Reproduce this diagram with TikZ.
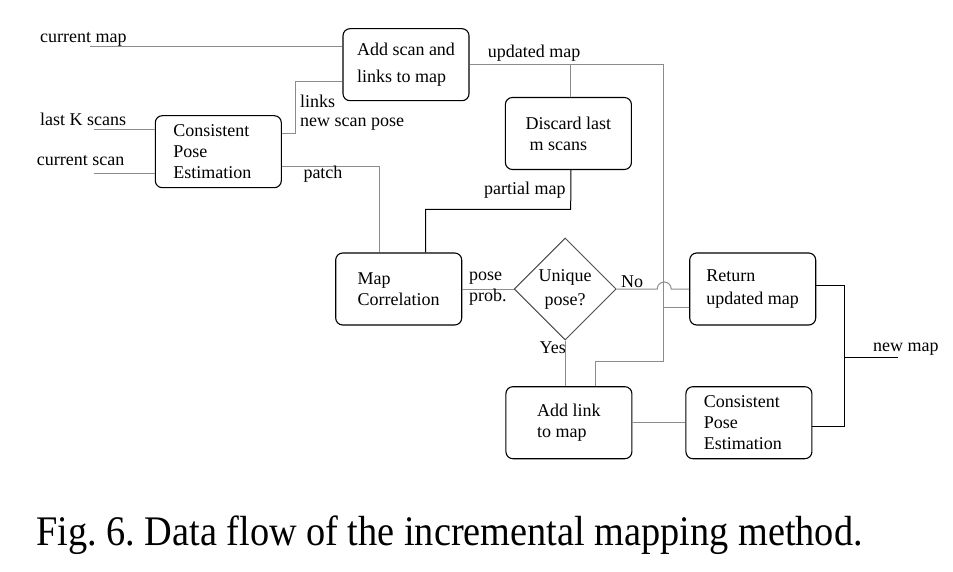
\documentclass[tikz,border=0pt]{standalone}
\usepackage{fontspec}
\setmainfont{Liberation Serif}
\usepackage{graphicx}
\usepackage{tikz}
\usetikzlibrary{shapes,arrows}
\usetikzlibrary{positioning}
\frenchspacing
\tikzstyle{block} = [
	draw,
	rectangle,
	rounded corners = 7pt,
	line width = 1.1pt,
	minimum width = 126pt,
	minimum height = 72pt,
	align = left,
	font = \fontsize{18}{21}\selectfont
]
\tikzstyle{estim} = [
	block,
	text width = 90pt,
	inner xsep = 18pt
]
\tikzstyle{decision} = [
	draw = black!70,
	diamond,
	line width = 1pt,
	minimum width = 102pt,
	minimum height = 102pt,
	inner sep = 0pt,
	align = center,
	font = \fontsize{18}{24}\selectfont
]
\tikzstyle{input} = [coordinate]
\tikzstyle{output} = [coordinate]
\tikzstyle{wire} = [draw = black!45, line width = 1pt]
\tikzstyle{bwire} = [draw = black, line width = 1pt]
\tikzstyle{lbl} = [anchor = base west, inner sep = 0pt, font = \fontsize{18}{19}\selectfont]

\begin{document}
\begin{tikzpicture}[x=1pt, y=-1pt, node distance=166.5pt]
	\useasboundingbox (0,0) rectangle (953,572);
	\node [block] (mapcorr) at (398.7,289) {Map\\Correlation};
	\node [decision, right of=mapcorr] (uniq) {Unique\\pose?};
	\node [block, right of=uniq, node distance=187.5pt, font=\fontsize{18}{23}\selectfont] (ret) {Return\\updated map};
	\node [block, below of=uniq, node distance=133.7pt, xshift=3.7pt] (addlink) {Add link\\to map};
	\node [estim, right of=addlink, node distance=180pt] (cpe2) {Consistent\\Pose\\Estimation};
	\node [block, above of=uniq, node distance=155.5pt, xshift=3.2pt] (discard) {Discard last\\\hspace*{4pt}m scans};
	\node [block, font=\fontsize{18}{26.5}\selectfont] (addscan) at (406,64.7) {Add scan and\\links to map};
	\node [estim] (cpe1) at (218.3,151.7) {Consistent\\Pose\\Estimation};
	
	\node [input] (inmap) at (90,46.7) {};
	\node [input] (inK) at (94.3,129.3) {};
	\node [input] (inS) at (94.3,173.3) {};
	\node [input] (bus) at (663.5,64.7) {};
	\node [input] (busend) at (663.5,361.7) {};
	\node [input] (pm) at (570.7,209.3) {};
	\node [input] (rj) at (844.3,357.3) {};
	\node [output] (outmap) at (897.7,357.3) {};
	
	\draw [wire] (inmap) -- (inmap -| addscan.west);
	\draw [wire] (inK) -- (inK -| cpe1.west);
	\draw [wire] (inS) -- (inS -| cpe1.west);
	\draw [wire] ([yshift=18.4pt]cpe1.east) -- ++(14,0) |- ([yshift=-17pt]addscan.west);
	\draw [wire] ([yshift=-14.5pt]cpe1.east) -| ([xshift=-19.4pt]mapcorr.north);
	\draw [wire] (addscan.east) -- (bus) -- (busend) -| ([xshift=26.3pt]addlink.north);
	\draw [wire] ([xshift=2.5pt]discard.north) -- ([xshift=2.5pt]discard.north |- bus);
	\draw [bwire] ([xshift=2.5pt]discard.south) -- (pm) -| ([xshift=27pt]mapcorr.north);
	\draw [wire] (mapcorr.east) -- (uniq.west) node[midway, align=left, inner sep=0pt, font=\fontsize{18}{21}\selectfont]{pose\\prob.};
	\draw [wire] (uniq.east) -- ++(40.5,0) arc [start angle=180, end angle=0, radius=7pt] -- (uniq.east -| ret.west);
	\draw [wire] ([yshift=-18.5pt]ret.west) -- ([yshift=-18.5pt]ret.west -| bus);
	\draw [wire] (uniq.south) -- (uniq.south |- addlink.north);
	\draw [wire] (addlink.east) -- (cpe2.west);
	\draw [bwire] ([yshift=4pt]ret.east) -| (rj) |- ([yshift=-3.5pt]cpe2.east);
	\draw [bwire] (rj) -- (outmap);
	
	\node [lbl] (lmap) at (40,42.7) {current map};
	\node [lbl] (lK) at (40,126) {last K scans};
	\node [lbl] (lS) at (36.7,166) {current scan};
	\node [lbl, anchor=north west, align=left] (llinks) at (300,94.7) {links\\new scan pose};
	\node [lbl] (lpatch) at (303.3,179) {patch};
	\node [lbl] (lupd) at (487.7,57.3) {updated map};
	\node [lbl] (lpart) at (484,195) {partial map};
	\node [lbl] (lno) at (621,287) {No};
	\node [lbl, anchor=base east] (lyes) at (566,353.3) {Yes};
	\node [lbl] (lnew) at (873,351.7) {new map};
	
	\node [anchor=base west, inner sep=0pt, font=\fontsize{38.3}{40}\selectfont] (caption) at (36,545) {\scalebox{1}[1.1]{Fig. 6. Data flow of the incremental mapping method.}};
\end{tikzpicture}
\end{document}
